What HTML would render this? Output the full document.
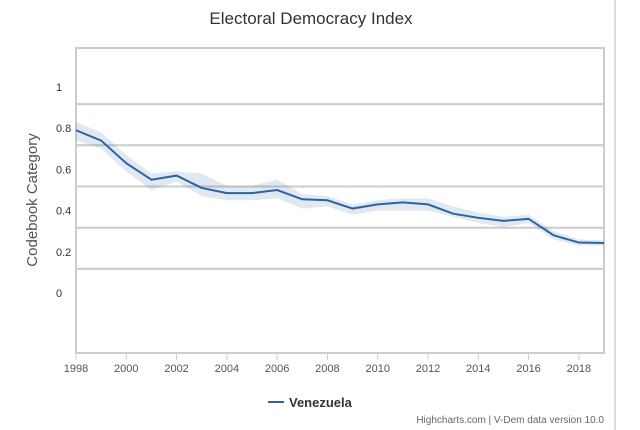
<!DOCTYPE html>
<html><head><meta charset="utf-8"><style>
html,body{margin:0;padding:0;background:#fff;width:640px;height:430px;overflow:hidden;font-family:"Liberation Sans",sans-serif}
</style></head><body>
<svg id="c" width="640" height="430" xmlns="http://www.w3.org/2000/svg">
<line x1="615" y1="0" x2="615" y2="430" stroke="#ddd" stroke-width="2"/>
<text x="311" y="24" text-anchor="middle" font-size="17" fill="#333">Electoral Democracy Index</text>
<text transform="translate(37,200) rotate(-90)" text-anchor="middle" font-size="15" fill="#555">Codebook Category</text>
<rect x="76" y="48" width="528" height="305" fill="none" stroke="#ccc" stroke-width="2"/>
<g id="grid"></g><g id="ylab"></g><g id="series"></g><g id="xaxis"></g>
<g>
<line x1="268" y1="402" x2="284" y2="402" stroke="#2c63a0" stroke-width="2"/>
<text x="289" y="407" font-size="13" font-weight="bold" fill="#333">Venezuela</text>
</g>
<text x="604" y="423" text-anchor="end" font-size="10" fill="#666">Highcharts.com | V-Dem data version 10.0</text>
</svg>
<script>
const years=[1998,1999,2000,2001,2002,2003,2004,2005,2006,2007,2008,2009,2010,2011,2012,2013,2014,2015,2016,2017,2018,2019];
const values=[0.79,0.74,0.63,0.55,0.57,0.51,0.485,0.485,0.50,0.455,0.45,0.41,0.43,0.44,0.43,0.385,0.365,0.35,0.36,0.28,0.245,0.243];
const upper=[0.83,0.78,0.67,0.58,0.59,0.58,0.52,0.52,0.55,0.48,0.47,0.43,0.45,0.46,0.46,0.42,0.39,0.37,0.38,0.30,0.26,0.255];
const lower=[0.74,0.70,0.59,0.50,0.54,0.47,0.45,0.45,0.46,0.41,0.42,0.38,0.40,0.40,0.40,0.37,0.34,0.32,0.34,0.26,0.23,0.23];
const yTicks=[0,0.2,0.4,0.6,0.8,1];
const yTickLabels=["0","0.2","0.4","0.6","0.8","1"];
const gridValues=[0.117,0.317,0.517,0.717,0.917];
const xTicks=[1998,2000,2002,2004,2006,2008,2010,2012,2014,2016,2018];
const NS="http://www.w3.org/2000/svg";
const X=v=>76+(v-1998)*(528/21);
const Y=v=>293-206*v;
function mk(t,a,p){const e=document.createElementNS(NS,t);for(const k in a)e.setAttribute(k,a[k]);p.appendChild(e);return e;}
const g=document.getElementById('grid');
gridValues.forEach(v=>{const l=mk('line',{x1:76,x2:604,y1:Y(v),y2:Y(v),stroke:'#ccc','stroke-width':2},g);

});
const yl=document.getElementById('ylab');
yTicks.forEach((v,i)=>{const t=mk('text',{x:56,y:Y(v)+4,'font-size':11,fill:'#333'},yl);t.textContent=yTickLabels[i];

});
const s=document.getElementById('series');
let d='M'+years.map((y,i)=>X(y)+','+Y(upper[i])).join('L');
for(let i=years.length-1;i>=0;i--)d+='L'+X(years[i])+','+Y(lower[i]);
const band=mk('path',{d:d+'Z',fill:'#2c63a0','fill-opacity':0.15},s);


const line=mk('path',{d:'M'+years.map((y,i)=>X(y)+','+Y(values[i])).join('L'),fill:'none',stroke:'#2c63a0','stroke-width':2},s);


const xa=document.getElementById('xaxis');
const ax=mk('line',{x1:76,x2:604,y1:353,y2:353,stroke:'#c0d0e0','stroke-width':1},xa);


xTicks.forEach(v=>{const tk=mk('line',{x1:X(v),x2:X(v),y1:353,y2:360,stroke:'#c0d0e0'},xa);


const t=mk('text',{x:X(v),y:372,'text-anchor':'middle','font-size':11,fill:'#555'},xa);t.textContent=v;

});
</script>
</body></html>
